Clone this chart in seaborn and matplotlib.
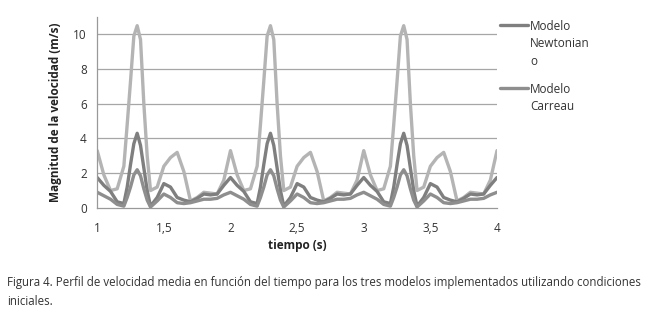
import numpy as np
import pandas as pd
import seaborn as sns
import matplotlib.pyplot as plt
from matplotlib.lines import Line2D

# tiempo (s) (denser around the sharp peaks)
tiempo = [1.00, 1.05, 1.10, 1.15, 1.20, 1.225, 1.25, 1.275, 1.30, 1.325, 1.35, 1.375,
          1.40, 1.45, 1.50, 1.55, 1.60, 1.65, 1.70, 1.75, 1.80, 1.85, 1.90, 1.95,
          2.00, 2.05, 2.10, 2.15, 2.20, 2.225, 2.25, 2.275, 2.30, 2.325, 2.35, 2.375,
          2.40, 2.45, 2.50, 2.55, 2.60, 2.65, 2.70, 2.75, 2.80, 2.85, 2.90, 2.95,
          3.00, 3.05, 3.10, 3.15, 3.20, 3.225, 3.25, 3.275, 3.30, 3.325, 3.35, 3.375,
          3.40, 3.45, 3.50, 3.55, 3.60, 3.65, 3.70, 3.75, 3.80, 3.85, 3.90, 3.95,
          4.00]

newtoniano = [1.75, 1.30, 0.95, 0.35, 0.25, 1.20, 2.50, 3.70, 4.30, 3.60, 2.30, 1.00,
              0.10, 0.60, 1.40, 1.20, 0.60, 0.45, 0.35, 0.55, 0.80, 0.75, 0.80, 1.30,
              1.75, 1.30, 0.95, 0.35, 0.25, 1.20, 2.50, 3.70, 4.30, 3.60, 2.30, 1.00,
              0.10, 0.60, 1.40, 1.20, 0.60, 0.45, 0.35, 0.55, 0.80, 0.75, 0.80, 1.30,
              1.75, 1.30, 0.95, 0.35, 0.25, 1.20, 2.50, 3.70, 4.30, 3.60, 2.30, 1.00,
              0.10, 0.60, 1.40, 1.20, 0.60, 0.45, 0.35, 0.55, 0.80, 0.75, 0.80, 1.30,
              1.75]

carreau = [0.90, 0.70, 0.50, 0.20, 0.10, 0.60, 1.20, 1.90, 2.20, 1.85, 1.10, 0.45,
           0.05, 0.40, 0.80, 0.60, 0.30, 0.25, 0.30, 0.40, 0.50, 0.50, 0.55, 0.75,
           0.90, 0.70, 0.50, 0.20, 0.10, 0.60, 1.20, 1.90, 2.20, 1.85, 1.10, 0.45,
           0.05, 0.40, 0.80, 0.60, 0.30, 0.25, 0.30, 0.40, 0.50, 0.50, 0.55, 0.75,
           0.90, 0.70, 0.50, 0.20, 0.10, 0.60, 1.20, 1.90, 2.20, 1.85, 1.10, 0.45,
           0.05, 0.40, 0.80, 0.60, 0.30, 0.25, 0.30, 0.40, 0.50, 0.50, 0.55, 0.75,
           0.90]

tercero = [3.30, 1.90, 1.00, 1.10, 2.40, 4.80, 7.30, 9.90, 10.50, 9.70, 6.00, 3.00,
           1.00, 1.20, 2.40, 2.90, 3.20, 2.10, 0.40, 0.60, 0.90, 0.85, 0.80, 1.60,
           3.30, 1.90, 1.00, 1.10, 2.40, 4.80, 7.30, 9.90, 10.50, 9.70, 6.00, 3.00,
           1.00, 1.20, 2.40, 2.90, 3.20, 2.10, 0.40, 0.60, 0.90, 0.85, 0.80, 1.60,
           3.30, 1.90, 1.00, 1.10, 2.40, 4.80, 7.30, 9.90, 10.50, 9.70, 6.00, 3.00,
           1.00, 1.20, 2.40, 2.90, 3.20, 2.10, 0.40, 0.60, 0.90, 0.85, 0.80, 1.60,
           3.30]

x_ticks = [1, 1.5, 2, 2.5, 3, 3.5, 4]
x_tick_labels = ['1', '1,5', '2', '2,5', '3', '3,5', '4']
y_ticks = [0, 2, 4, 6, 8, 10]
legend_labels = ['Modelo\nNewtonian\no', 'Modelo\nCarreau']

df = pd.DataFrame({'tiempo': tiempo * 3,
                   'velocidad': tercero + newtoniano + carreau,
                   'modelo': ['tercero'] * len(tiempo) + ['newtoniano'] * len(tiempo)
                             + ['carreau'] * len(tiempo)})

sns.set_style('white')
plt.rcParams['font.family'] = ['Open Sans', 'DejaVu Sans']

fig = plt.figure(figsize=(6.48, 3.15), dpi=100)
ax = fig.add_axes([0.150, 0.340, 0.617, 0.606])

palette = {'tercero': '#b4b4b4', 'newtoniano': '#7f7f7f', 'carreau': '#8e8e8e'}
sns.lineplot(ax=ax, data=df, x='tiempo', y='velocidad', hue='modelo', palette=palette,
             linewidth=2.4, legend=False)

ax.set_xlim(1, 4)
ax.set_ylim(0, 11)
ax.set_xticks(x_ticks)
ax.set_xticklabels(x_tick_labels)
ax.set_yticks(y_ticks)
ax.tick_params(axis='both', labelsize=8.5, colors='#333333', length=4, width=0.8,
               direction='out', color='#999999')
ax.tick_params(axis='x', pad=6)
for y in y_ticks[1:]:
    ax.axhline(y, color='#a6a6a6', linewidth=0.9, zorder=0)
for s in ['top', 'right']:
    ax.spines[s].set_visible(False)
for s in ['left', 'bottom']:
    ax.spines[s].set_color('#999999')
    ax.spines[s].set_linewidth(0.9)

ax.set_xlabel('tiempo (s)', fontsize=8.5, fontweight='bold', color='#222222', labelpad=3)
ax.set_ylabel('Magnitud de la velocidad (m/s)', fontsize=8.5, fontweight='bold', color='#222222',
              labelpad=8)

# legend drawn by hand: handle level with the first line of the label
for label, col, yf in zip(legend_labels, [palette['newtoniano'], palette['carreau']], [0.921, 0.721]):
    fig.add_artist(Line2D([0.772, 0.815], [yf, yf], transform=fig.transFigure,
                          color=col, linewidth=2.4))
    fig.text(0.818, yf + 0.017, label, fontsize=8.5, color='#333333', va='top',
             linespacing=1.45)

fig.text(0.011, 0.022, 'Figura 4. Perfil de velocidad media en función del tiempo para los tres modelos implementados utilizando condiciones\niniciales.',
         fontsize=8.3, color='#333333', va='bottom', linespacing=1.6)

plt.savefig('out.png', dpi=100)
plt.close()
